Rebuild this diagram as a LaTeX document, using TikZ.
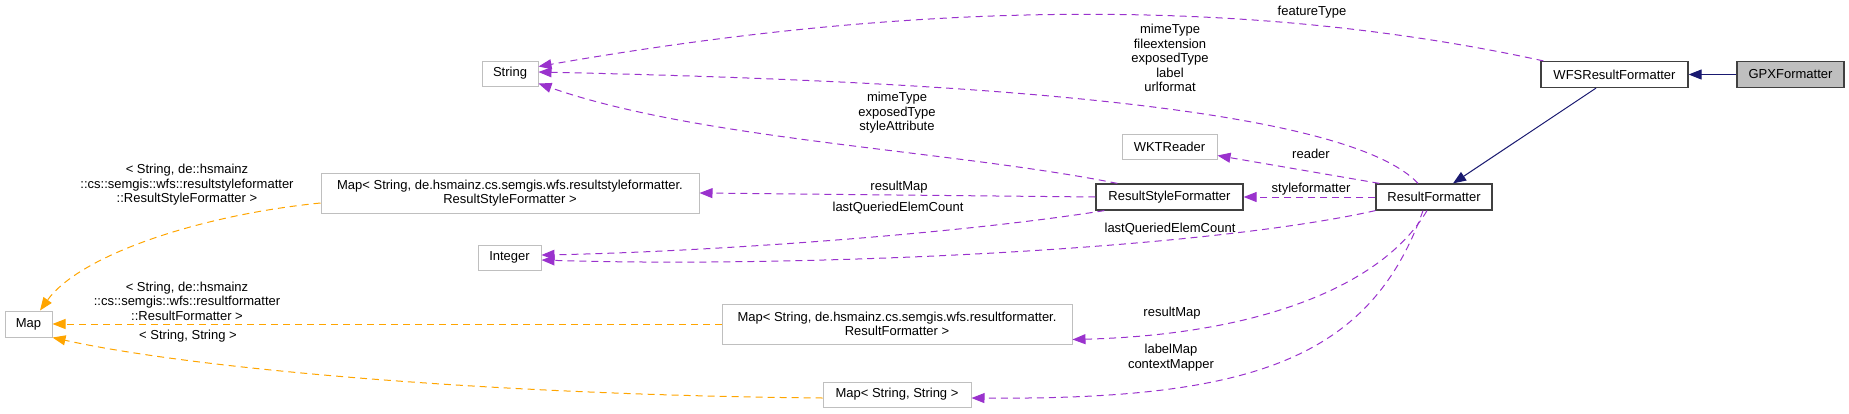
\documentclass[tikz,border=0pt]{standalone}
\usepackage{fontspec}
\setmainfont{Liberation Sans}
\usetikzlibrary{arrows.meta}

\definecolor{usecolor}{HTML}{9A32CD}
\definecolor{tmplcolor}{HTML}{FFA500}
\definecolor{basecolor}{HTML}{191970}
\definecolor{extgray}{HTML}{BFBFBF}

\begin{document}
\begin{tikzpicture}[x=1pt,y=-1pt,
  font=\fontsize{13}{14.5}\selectfont,
  cls/.style={draw=black!75,line width=1.2pt,fill=white,minimum height=26,inner sep=0pt},
  ext/.style={draw=extgray,line width=1pt,fill=white,minimum height=25,inner sep=0pt,align=center},
  usage/.style={draw=usecolor,line width=1pt,dash pattern=on 7pt off 5pt,-{Triangle[length=13pt,width=10pt]}},
  tmpl/.style={draw=tmplcolor,line width=1pt,dash pattern=on 7pt off 5pt,-{Triangle[length=13pt,width=10pt]}},
  inherit/.style={draw=basecolor,line width=1pt,-{Triangle[length=13pt,width=10pt]}},
  lbl/.style={align=center,inner sep=0pt}]
\useasboundingbox (0,0) rectangle (1849,413);

% classes
\node[cls,fill=extgray,minimum width=107] (gpx) at (1790.5,74.5) {GPXFormatter};
\node[cls,minimum width=147] (wfs) at (1614.5,74.5) {WFSResultFormatter};
\node[cls,minimum width=116] (rf) at (1434,197) {ResultFormatter};
\node[cls,minimum width=147] (rsf) at (1169.5,197) {ResultStyleFormatter};

\node[ext,minimum width=56] (string) at (510,73.5) {String};
\node[ext,minimum width=63] (integer) at (509.5,257.5) {Integer};
\node[ext,minimum width=95] (wkt) at (1169.5,146.5) {WKTReader};
\node[ext,minimum width=47,minimum height=26] (map) at (28.5,324) {Map};
\node[ext,minimum width=378,minimum height=40] (maprsf) at (510,193)
  {Map< String, de.hsmainz.cs.semgis.wfs.resultstyleformatter.\\ResultStyleFormatter >};
\node[ext,minimum width=350,minimum height=40] (maprf) at (897,324)
  {Map< String, de.hsmainz.cs.semgis.wfs.resultformatter.\\ResultFormatter >};
\node[ext,minimum width=148] (mapss) at (897,394.5) {Map< String, String >};

% inheritance
\draw[inherit] (gpx.west) -- (wfs.east);
\draw[inherit] ([xshift=-18.5]wfs.south) -- ([xshift=19]rf.north);

% usage
\draw[usage] ([xshift=3]wfs.north west) .. controls (1200,-14) and (850,12) .. ([yshift=7]string.east);
\draw[usage] ([xshift=-16]rf.north) .. controls (1340,100) and (900,80) .. ([yshift=1.5]string.east);
\draw[usage] ([xshift=22]rsf.north west) .. controls (950,150) and (700,140) .. ([yshift=3]string.south east);
\draw[usage] (rsf.west) -- (maprsf.east);
\draw[usage] ([xshift=9]rsf.south west) .. controls (950,235) and (700,252) .. ([yshift=2.5]integer.east);
\draw[usage] (rf.south west) .. controls (1200,250) and (800,268) .. ([yshift=-2.5]integer.east);
\draw[usage] ([xshift=4]rf.north west) -- ([yshift=4]wkt.south east);
\draw[usage] (rf.west) -- (rsf.east);
\draw[usage] ([xshift=-7]rf.south) .. controls (1380,290) and (1250,335) .. ([yshift=5]maprf.south east);
\draw[usage] ([xshift=-11]rf.south) .. controls (1370,360) and (1250,400) .. ([yshift=-3.5]mapss.east);

% template instances
\draw[tmpl] ([yshift=-10]maprsf.west) .. controls (200,215) and (80,255) .. ([xshift=11.5]map.north);
\draw[tmpl] (maprf.west) -- (map.east);
\draw[tmpl] ([yshift=-3.5]mapss.west) .. controls (500,395) and (200,370) .. (map.south east);

% labels
\node[lbl] (l-feature) at (1312,12) {featureType};
\node[lbl] (l-rfstring) at (1170,58) {mimeType\\fileextension\\exposedType\\label\\urlformat};
\node[lbl] (l-rsfstring) at (897,113) {mimeType\\exposedType\\styleAttribute};
\node[lbl] (l-rsfmap) at (899,187) {resultMap};
\node[lbl] (l-rsfint) at (898,208) {lastQueriedElemCount};
\node[lbl] (l-reader) at (1311,154) {reader};
\node[lbl] (l-style) at (1311,189) {styleformatter};
\node[lbl] (l-rfint) at (1170,229) {lastQueriedElemCount};
\node[lbl] (l-rfmap) at (1172,313) {resultMap};
\node[lbl] (l-labelmap) at (1171,357.5) {labelMap\\contextMapper};
\node[lbl] (t-rsf) at (187,185) {< String, de::hsmainz\\::cs::semgis::wfs::resultstyleformatter\\::ResultStyleFormatter >};
\node[lbl] (t-rf) at (187,301) {< String, de::hsmainz\\::cs::semgis::wfs::resultformatter\\::ResultFormatter >};
\node[lbl] (t-ss) at (188,336) {< String, String >};

\end{tikzpicture}
\end{document}
